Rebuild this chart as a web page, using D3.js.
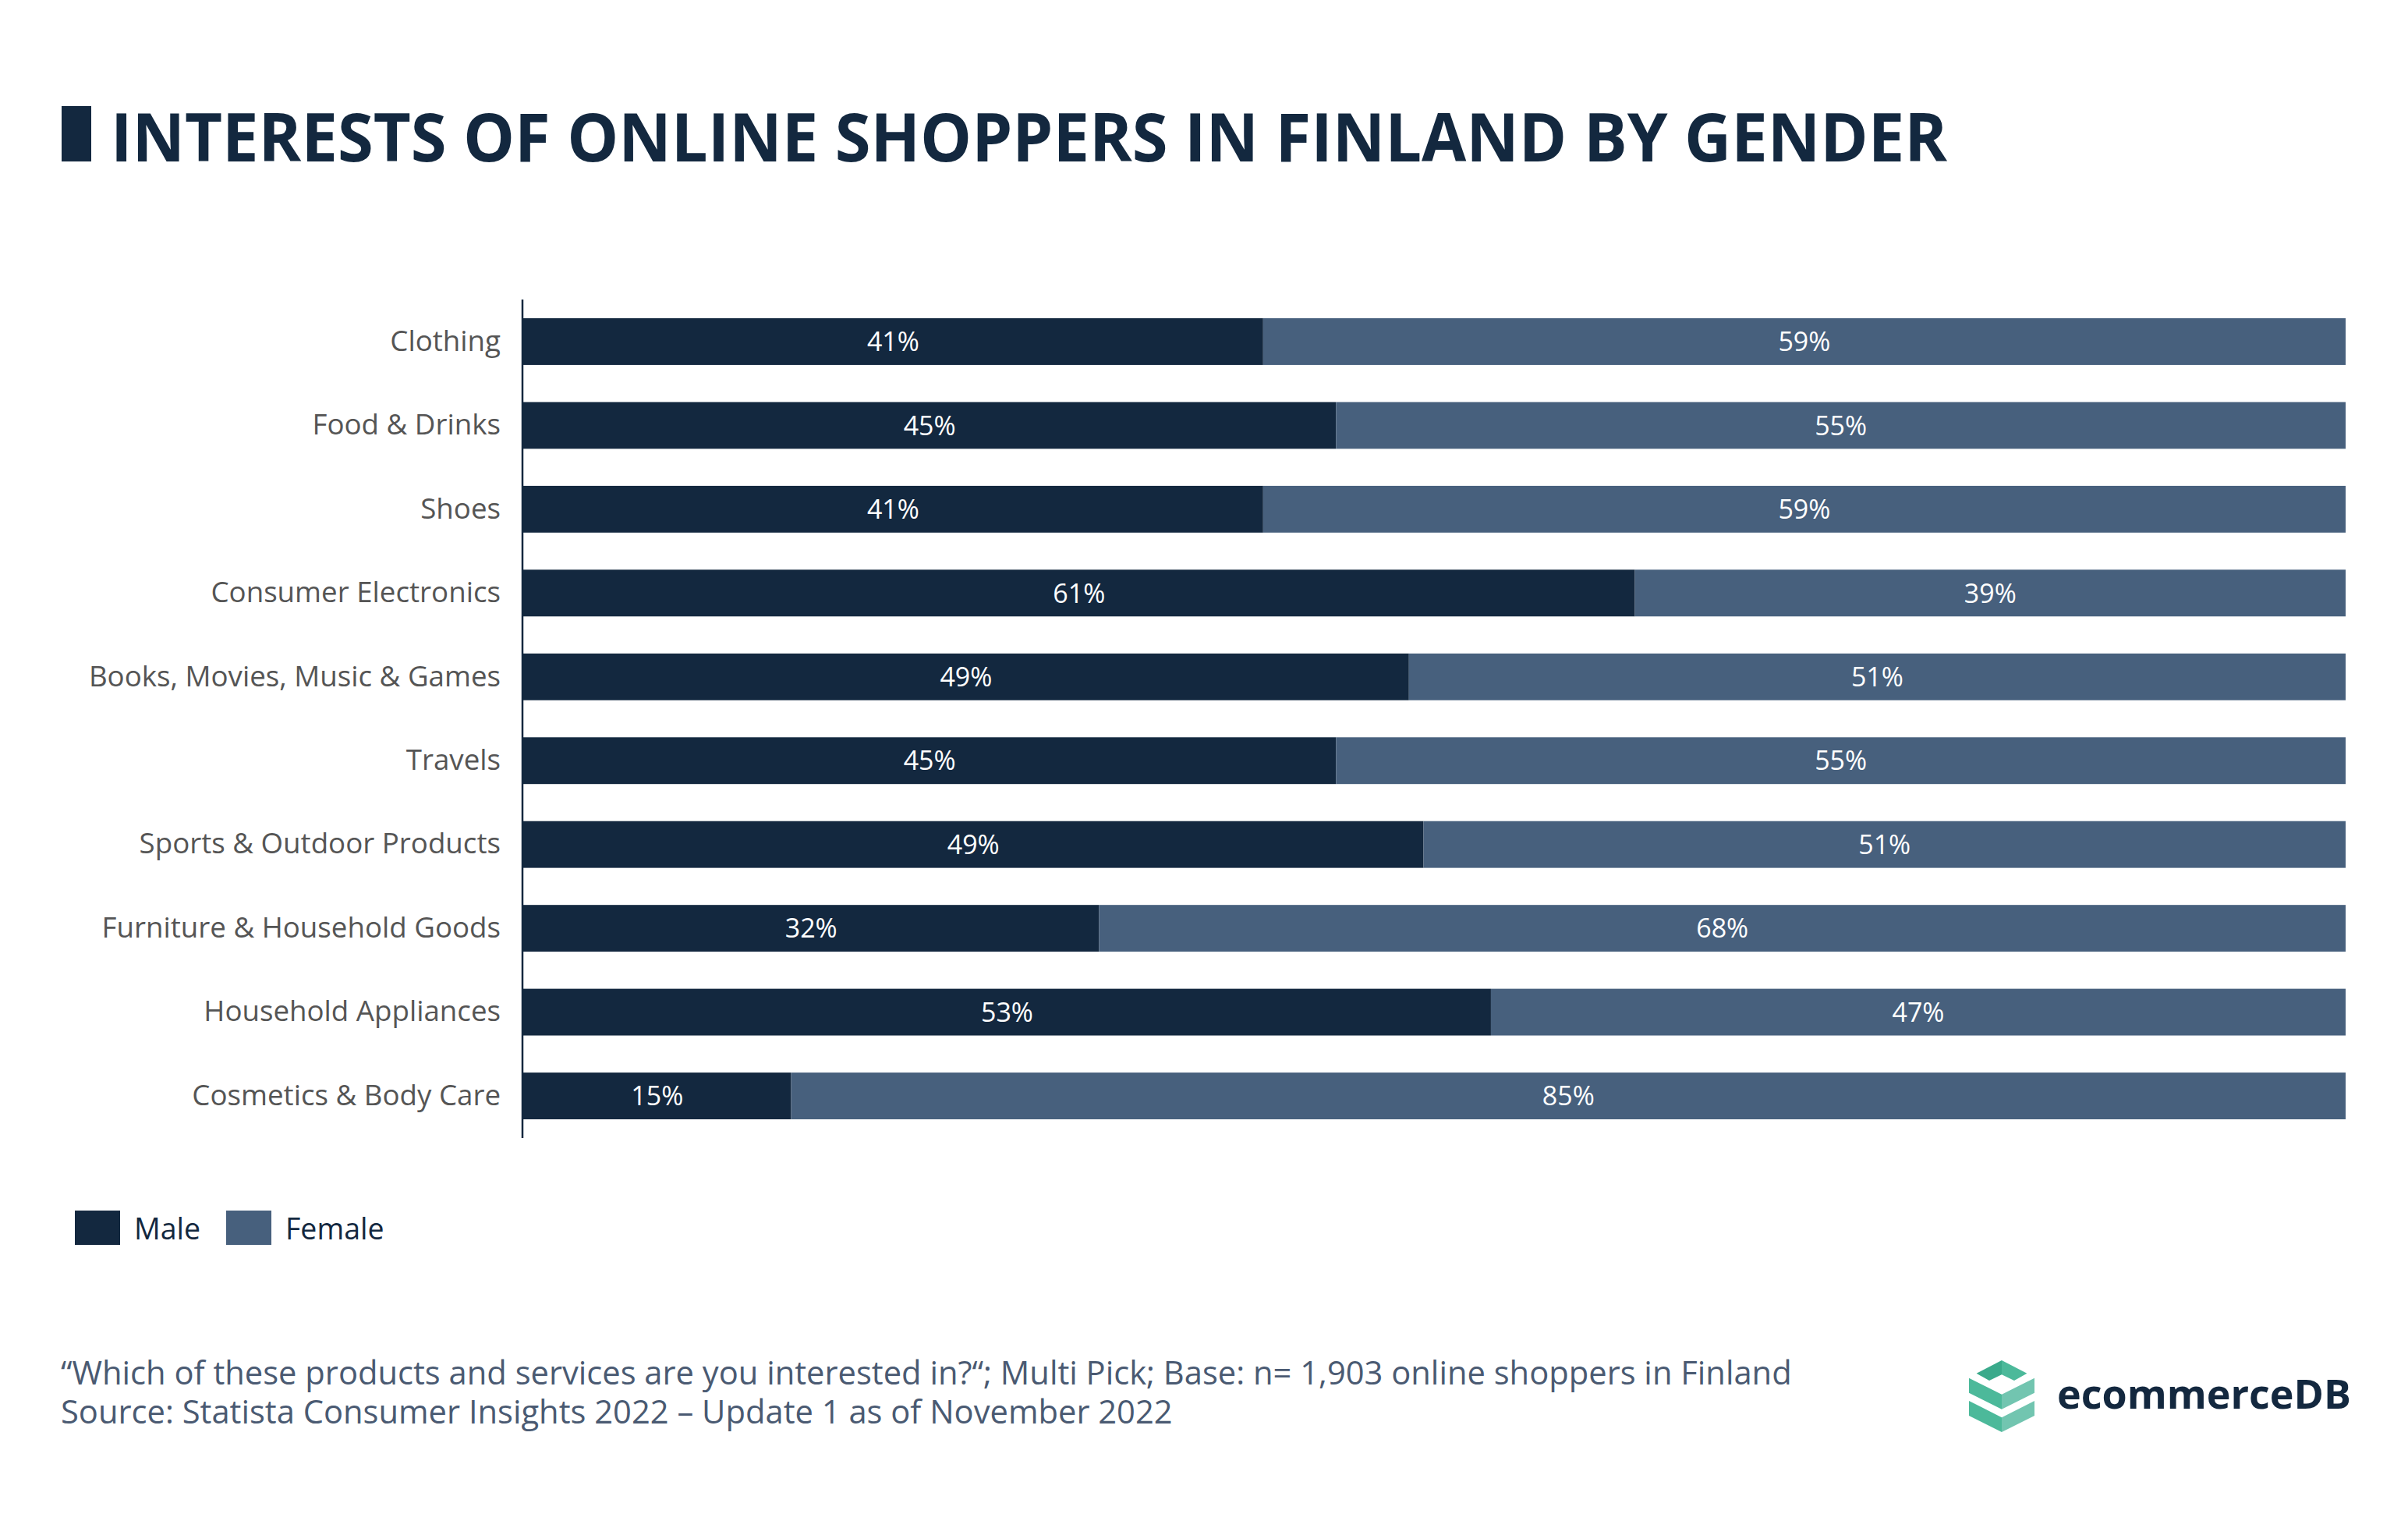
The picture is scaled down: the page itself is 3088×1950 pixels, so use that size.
<!DOCTYPE html>
<html>
<head>
<meta charset="utf-8">
<script src="https://cdn.jsdelivr.net/npm/d3@7"></script>
<style>
  html, body { margin: 0; padding: 0; background: #ffffff; }
  svg { display: block; }
  text { font-family: "Open Sans", "Noto Sans", sans-serif; }
</style>
</head>
<body>
<svg id="chart" width="3088" height="1950"></svg>
<script>
// ---- Data ----
const categories = [
  "Clothing",
  "Food & Drinks",
  "Shoes",
  "Consumer Electronics",
  "Books, Movies, Music & Games",
  "Travels",
  "Sports & Outdoor Products",
  "Furniture & Household Goods",
  "Household Appliances",
  "Cosmetics & Body Care"
];
const seriesNames = ["Male", "Female"];
const maleValues   = [40.6, 44.6, 40.6, 61.0, 48.6, 44.6, 49.4, 31.6, 53.1, 14.7];
const femaleValues = [59.4, 55.4, 59.4, 39.0, 51.4, 55.4, 50.6, 68.4, 46.9, 85.3];
const titleText = "INTERESTS OF ONLINE SHOPPERS IN FINLAND BY GENDER";
const footnoteLines = [
  "\u201CWhich of these products and services are you interested in?\u201C; Multi Pick; Base: n= 1,903 online shoppers in Finland",
  "Source: Statista Consumer Insights 2022 \u2013 Update 1 as of November 2022"
];
const brandName = "ecommerceDB";

// ---- Styles ----
const colMale = "#13283f";
const colFemale = "#47607d";
const navy = "#13283f";

const svg = d3.select("#chart");
svg.append("rect").attr("width", 3088).attr("height", 1950).attr("fill", "#fff");

// Title
svg.append("rect").attr("x", 79).attr("y", 136).attr("width", 38).attr("height", 71).attr("fill", navy);
svg.append("text")
  .attr("x", 142).attr("y", 207)
  .attr("font-size", 86).attr("font-weight", 700)
  .attr("fill", navy)
  .attr("textLength", 2355).attr("lengthAdjust", "spacingAndGlyphs")
  .text(titleText);

// Scales
const x = d3.scaleLinear().domain([0, 100]).range([671, 3008]);
const y = d3.scaleBand().domain(categories).range([408, 1435]).paddingInner(0.4424).paddingOuter(0);

const rows = categories.map((c, i) => ({ cat: c, male: maleValues[i], female: femaleValues[i] }));
const stack = d3.stack().keys(["male", "female"])(rows);
const colors = { male: colMale, female: colFemale };

const g = svg.append("g");
stack.forEach(layer => {
  const lg = g.append("g");
  lg.selectAll("rect").data(layer).join("rect")
    .attr("x", d => x(d[0]))
    .attr("y", d => y(d.data.cat))
    .attr("width", d => x(d[1]) - x(d[0]))
    .attr("height", y.bandwidth())
    .attr("fill", colors[layer.key]);
  lg.selectAll("text").data(layer).join("text")
    .attr("x", d => (x(d[0]) + x(d[1])) / 2)
    .attr("y", d => y(d.data.cat) + y.bandwidth() / 2)
    .attr("dy", "0.36em")
    .attr("text-anchor", "middle")
    .attr("font-size", 34)
    .attr("fill", "#ffffff")
    .text(d => Math.round(d.data[layer.key]) + "%");
});

// Y axis
const yAxis = d3.axisLeft(y).tickSize(0).tickPadding(28);
const ax = svg.append("g").attr("transform", "translate(670,0)").call(yAxis);
ax.select(".domain").remove();
ax.selectAll("text").attr("font-size", 36.7).attr("fill", "#555555")
  .attr("font-family", "'Open Sans', sans-serif");
svg.append("line").attr("x1", 670).attr("x2", 670).attr("y1", 384).attr("y2", 1459)
  .attr("stroke", navy).attr("stroke-width", 2.5);

// Legend
const legend = svg.append("g");
const legendX = [96, 290];
seriesNames.forEach((s, i) => {
  legend.append("rect").attr("x", legendX[i]).attr("y", 1552).attr("width", 58).attr("height", 44)
    .attr("fill", i === 0 ? colMale : colFemale);
  legend.append("text").attr("x", legendX[i] + 76).attr("y", 1589)
    .attr("font-size", 37.5).attr("fill", navy).text(s);
});

// Footnote
footnoteLines.forEach((t, i) => {
  svg.append("text").attr("x", 78).attr("y", 1775 + i * 50)
    .attr("font-size", 41.7).attr("fill", "#4a5a72").text(t);
});

// Logo icon
const logo = svg.append("g");
const poly = (pts, fill) => logo.append("path").attr("d", d3.line()(pts) + "Z").attr("fill", fill);
// top chevron
poly([[2534.6,1760.7],[2567,1744],[2567,1762.3],[2551,1770]], "#3aaa8b");
poly([[2567,1744],[2599.4,1760.7],[2583,1770],[2567,1762.3]], "#4cb99a");
// middle layer
poly([[2525,1766.7],[2567,1787.7],[2567,1806.7],[2525,1785.7]], "#4cb99a");
poly([[2567,1787.7],[2609,1766.7],[2609,1785.7],[2567,1806.7]], "#72c5b0");
// bottom layer
poly([[2525,1796],[2567,1817.3],[2567,1836],[2525,1815]], "#4cb99a");
poly([[2567,1817.3],[2609,1796],[2609,1815],[2567,1836]], "#72c5b0");
svg.append("text").attr("x", 2638).attr("y", 1806)
  .attr("font-size", 52).attr("font-weight", 700).attr("fill", navy)
  .text(brandName);
</script>
</body>
</html>
